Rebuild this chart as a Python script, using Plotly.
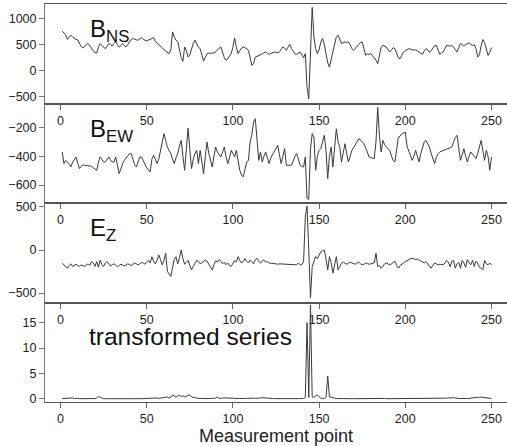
import plotly.graph_objects as go
from plotly.subplots import make_subplots

# ---- data ----
b_ns = [
    759, 720, 690, 600, 640, 681, 650, 617, 600, 590,
    520, 460, 434, 470, 500, 519, 480, 440, 380, 340,
    337, 450, 519, 480, 440, 422, 470, 520, 500, 470,
    520, 560, 500, 450, 480, 520, 480, 454, 500, 560,
    600, 617, 600, 590, 584, 620, 636, 600, 580, 571,
    590, 597, 620, 636, 560, 532, 500, 460, 440, 400,
    376, 340, 324, 400, 746, 650, 584, 560, 420, 250,
    175, 454, 380, 259, 300, 420, 520, 584, 500, 450,
    422, 300, 181, 250, 320, 337, 330, 340, 337, 360,
    400, 430, 454, 350, 250, 195, 220, 280, 324, 450,
    629, 450, 324, 380, 430, 454, 440, 420, 389, 250,
    97, 130, 259, 270, 292, 310, 320, 340, 357, 330,
    311, 330, 345, 350, 357, 340, 360, 420, 454, 430,
    389, 450, 506, 420, 357, 320, 311, 330, 357, 300,
    246, 324, -324, -551, 400, 1220, 649, 420, 324, 400,
    550, 617, 500, 300, 150, 64, 200, 350, 500, 650,
    681, 600, 519, 540, 551, 540, 551, 500, 420, 389,
    420, 454, 500, 540, 551, 420, 292, 320, 310, 324,
    280, 259, 200, 130, 300, 450, 486, 470, 454, 400,
    357, 400, 440, 420, 330, 240, 227, 300, 357, 380,
    400, 422, 410, 400, 390, 400, 380, 360, 340, 311,
    380, 420, 400, 350, 380, 440, 480, 486, 380, 311,
    340, 357, 420, 486, 480, 470, 480, 454, 400, 357,
    440, 519, 500, 470, 500, 520, 532, 510, 480, 500,
    420, 259, 300, 480, 597, 540, 400, 292, 350, 441,
]

b_ew = [
    -370, -451, -430, -439, -455, -474, -440, -420, -405, -450,
    -485, -470, -460, -462, -465, -468, -467, -470, -480, -490,
    -497, -440, -405, -420, -440, -439, -420, -405, -425, -440,
    -439, -405, -460, -520, -490, -450, -428, -410, -395, -382,
    -382, -420, -460, -474, -440, -405, -405, -430, -462, -480,
    -495, -508, -420, -393, -420, -451, -420, -360, -290, -243,
    -290, -336, -360, -382, -420, -451, -410, -382, -330, -290,
    -400, -497, -350, -205, -350, -485, -420, -380, -359, -451,
    -359, -430, -520, -400, -301, -380, -440, -474, -400, -336,
    -370, -390, -405, -370, -336, -400, -451, -410, -359, -380,
    -405, -359, -440, -497, -530, -543, -490, -439, -430, -300,
    -250, -160, -140, -280, -428, -370, -439, -400, -370, -410,
    -451, -410, -390, -370, -345, -324, -390, -451, -400, -347,
    -462, -460, -462, -462, -430, -400, -382, -430, -462, -470,
    -474, -405, -692, -700, -350, -243, -267, -497, -400, -359,
    -347, -300, -255, -359, -554, -400, -336, -474, -340, -209,
    -300, -336, -439, -380, -313, -380, -439, -400, -359, -340,
    -324, -300, -278, -285, -300, -313, -340, -380, -405, -410,
    -414, -416, -300, -60, -260, -370, -290, -320, -336, -345,
    -359, -400, -430, -439, -350, -267, -260, -245, -240, -232,
    -330, -359, -400, -428, -400, -359, -400, -439, -380, -336,
    -300, -290, -310, -336, -380, -420, -451, -410, -382, -370,
    -365, -362, -359, -350, -345, -340, -336, -300, -270, -255,
    -350, -428, -390, -347, -400, -439, -400, -370, -385, -400,
    -416, -380, -330, -290, -360, -428, -359, -400, -497, -405,
]

e_z = [
    -153, -170, -185, -211, -180, -160, -190, -175, -165, -180,
    -190, -172, -185, -190, -175, -160, -180, -134, -150, -190,
    -134, -200, -115, -170, -190, -150, -134, -160, -185, -170,
    -160, -175, -195, -180, -165, -172, -185, -175, -160, -170,
    -180, -165, -150, -160, -172, -160, -145, -150, -165, -140,
    -120, -150, -77, -130, -160, -120, -57, -110, -172, -120,
    -38, -249, -280, -306, -200, -110, -77, -160, -90, 0,
    -100, -165, -140, -120, -180, -230, -190, -150, -120, -130,
    -160, -150, -130, -115, -130, -160, -200, -230, -170, -125,
    -140, -110, -130, -160, -140, -170, -150, -180, -190, -150,
    -120, -140, -77, -120, -150, -134, -100, -130, -150, -115,
    -140, -160, -110, -96, -130, -153, -125, -115, -140, -134,
    -150, -155, -160, -158, -160, -165, -160, -162, -160, -165,
    -168, -170, -165, -170, -172, -175, -172, -150, -172, -170,
    -134, 383, 510, 0, -555, -191, -120, -77, -100, -60,
    -19, -10, 0, -100, -230, -77, -150, -268, -180, -77,
    -230, -190, -153, -140, -150, -165, -155, -140, -150, -160,
    -165, -150, -140, -160, -172, -165, -150, -155, -165, -160,
    -155, -150, -38, -191, -180, -211, -190, -160, -150, -165,
    -172, -160, -140, -130, -180, -211, -180, -160, -150, -135,
    -120, -105, -100, -96, -100, -110, -105, -115, -130, -140,
    -150, -135, -160, -190, -211, -180, -150, -160, -172, -165,
    -170, -172, -150, -120, -140, -195, -130, -120, -211, -160,
    -140, -211, -120, -150, -200, -110, -150, -172, -120, -190,
    -130, -150, -200, -210, -230, -120, -160, -172, -150, -172,
]

transformed = [
    0.05, 0.08, 0.1, 0.12, 0.1, 0.15, 0.2, 0.1, 0.18, 0.12,
    0.05, 0.05, 0.06, 0.05, 0.05, 0.05, 0.06, 0.05, 0.05, 0.08,
    0.2, 0.5, 0.3, 0.1, 0.05, 0.05, 0.06, 0.05, 0.08, 0.05,
    0.05, 0.06, 0.1, 0.05, 0.05, 0.08, 0.05, 0.05, 0.06, 0.05,
    0.05, 0.08, 0.05, 0.06, 0.1, 0.05, 0.05, 0.06, 0.05, 0.08,
    0.1, 0.15, 0.2, 0.15, 0.25, 0.2, 0.1, 0.15, 0.2, 0.3,
    0.3, 0.4, 0.2, 0.3, 0.8, 0.5, 0.3, 0.6, 0.7, 0.5,
    0.6, 0.4, 0.5, 0.6, 0.8, 0.4, 0.3, 0.2, 0.15, 0.1,
    0.1, 0.08, 0.1, 0.12, 0.1, 0.1, 0.08, 0.15, 0.1, 0.2,
    0.35, 0.15, 0.1, 0.2, 0.2, 0.15, 0.25, 0.2, 0.2, 0.15,
    0.1, 0.08, 0.1, 0.15, 0.1, 0.08, 0.1, 0.12, 0.15, 0.1,
    0.2, 0.15, 0.1, 0.1, 0.15, 0.2, 0.25, 0.2, 0.15, 0.1,
    0.08, 0.1, 0.08, 0.06, 0.05, 0.06, 0.05, 0.05, 0.06, 0.05,
    0.05, 0.06, 0.05, 0.05, 0.06, 0.05, 0.05, 0.06, 0.08, 0.1,
    0.1, 0.3, 15.0, 0.3, 18.4, 0.4, 0.3, 0.6, 0.8, 0.4,
    0.15, 0.1, 0.1, 0.3, 4.5, 0.4, 0.3, 0.2, 0.15, 0.1,
    0.08, 0.06, 0.05, 0.05, 0.06, 0.05, 0.05, 0.06, 0.05, 0.05,
    0.06, 0.05, 0.05, 0.06, 0.05, 0.05, 0.06, 0.05, 0.05, 0.06,
    0.1, 0.15, 0.1, 0.08, 0.05, 0.06, 0.2, 0.1, 0.05, 0.05,
    0.05, 0.06, 0.05, 0.08, 0.1, 0.15, 0.1, 0.15, 0.1, 0.08,
    0.06, 0.05, 0.05, 0.06, 0.05, 0.08, 0.05, 0.05, 0.06, 0.05,
    0.08, 0.1, 0.15, 0.1, 0.06, 0.05, 0.05, 0.06, 0.05, 0.05,
    0.06, 0.05, 0.1, 0.15, 0.2, 0.15, 0.2, 0.25, 0.15, 0.1,
    0.08, 0.1, 0.06, 0.05, 0.05, 0.08, 0.1, 0.15, 0.1, 0.2,
    0.3, 0.35, 0.25, 0.4, 0.3, 0.25, 0.3, 0.15, 0.1, 0.1,
]

series = [b_ns, b_ew, e_z, transformed]
labels = ["B<sub>NS</sub>", "B<sub>EW</sub>", "E<sub>Z</sub>", "transformed series"]
x_ticks = [0, 50, 100, 150, 200, 250]
y_ticks = [[-500, 0, 500, 1000], [-600, -400, -200], [-500, 0, 500], [0, 5, 10, 15]]
y_ranges = [[-640, 1285], [-724, -34], [-609, 546], [-0.6, 18.95]]
x_title = "Measurement point"

FONT = "Liberation Sans, Arial, Helvetica, sans-serif"

fig = make_subplots(rows=4, cols=1, vertical_spacing=0)

for i, vals in enumerate(series):
    xs = list(range(1, len(vals) + 1))
    fig.add_trace(
        go.Scatter(x=xs, y=vals, mode="lines",
                   line=dict(color="#3a3a3a", width=1), showlegend=False,
                   hoverinfo="skip"),
        row=i + 1, col=1,
    )
    n = "" if i == 0 else str(i + 1)
    fig.update_xaxes(
        range=[-9, 259], tickvals=x_ticks, ticks="outside", ticklen=5,
        tickcolor="#666", showline=True, mirror=True, linecolor="#555",
        linewidth=1, showgrid=False, zeroline=False, automargin=False,
        tickfont=dict(family=FONT, size=12.5, color="#222"),
        row=i + 1, col=1,
    )
    fig.update_yaxes(
        range=y_ranges[i], tickvals=y_ticks[i], ticks="outside", ticklen=5,
        tickcolor="#777", showline=True, mirror=False, linecolor="#777",
        linewidth=1, showgrid=False, zeroline=False, automargin=False,
        tickfont=dict(family=FONT, size=12.5, color="#222"),
        row=i + 1, col=1,
    )
    is_plain = "<sub>" not in labels[i]
    fig.add_annotation(
        text=labels[i], xref="x" + n, yref="y" + n + " domain",
        x=16 if not is_plain else 15.5, y=0.73 if not is_plain else 0.655,
        xanchor="left", yanchor="middle", showarrow=False,
        font=dict(family=FONT, size=24 if not is_plain else 24.5, color="#111"),
    )

fig.update_xaxes(title=dict(text=x_title, font=dict(family=FONT, size=18, color="#222"),
                            standoff=2), row=4, col=1)

fig.update_layout(
    width=507, height=446,
    margin=dict(l=45, r=0, t=4, b=44),
    paper_bgcolor="white", plot_bgcolor="white",
    font=dict(family=FONT),
)

fig.write_html("out.html", config={"displayModeBar": False},
               post_script="document.body.style.margin='0';")
